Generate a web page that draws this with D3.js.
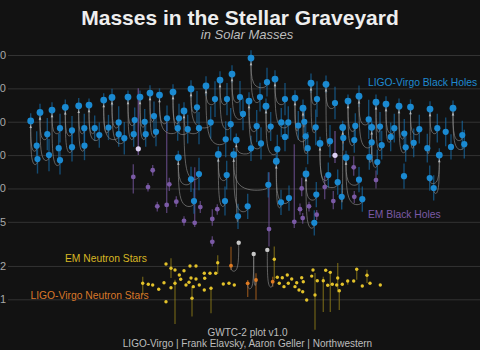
<!DOCTYPE html>
<html>
<head>
<meta charset="utf-8">
<script src="https://cdn.jsdelivr.net/npm/d3@7"></script>
<style>
  html, body { margin: 0; background: #121212; overflow: hidden; }
  svg { font-family: "Liberation Sans", Arial, sans-serif; display: block; }
</style>
</head>
<body>
<svg id="chart" width="480" height="350"></svg>
<script>
// y axis ticks (solar masses, log scale)
const yTicks = [1, 2, 5, 10, 20, 40, 80, 160];

// LIGO-Virgo binary black holes: [x, final mass, x1, m1, x2, m2, spread]
const bbh = [
  [5.7, 40.7, 11.7, 24.3, 12.5, 18.4, 0.35],
  [15, 48.5, 22.3, 30.9, 24, 20, 0.4],
  [27, 51, 35, 35, 35, 18, 0.35],
  [40.3, 54, 47, 33.4, 47, 23.6, 0.35],
  [53.7, 55.7, 59.3, 35, 59.5, 24.3, 0.35],
  [64, 56.5, 69.7, 35, 74.3, 30.3, 0.3],
  [78.7, 62.7, 83.5, 35.5, 93.7, 30.9, 0.3],
  [87, 66.3, 93.7, 39.4, 99.3, 28.4, 0.4],
  [103, 66.7, 109.7, 41.4, 108.7, 30.9, 0.3],
  [115, 66.7, 119.7, 40, 120.7, 30.9, 0.3],
  [125, 72.5, 129, 45, 131, 32.4, 0.35],
  [134.5, 69.6, 142, 43, 152.7, 35, 0.3],
  [148, 74, 154, 43, 162.7, 34.3, 0.35],
  [153.3, 19, 166, 12.1, 169, 7.7, 0.3],
  [159, 50, 174, 35, 174, 13.5, 0.4],
  [166, 79, 172, 54, 185.7, 39.4, 0.4],
  [181, 84, 190, 64, 200.7, 27.8, 0.45],
  [193.3, 20.3, 201.7, 13.2, 200, 7.7, 0.35],
  [195, 95, 202, 64, 205.7, 38, 0.4],
  [207, 107.6, 215, 66.7, 218, 47, 0.4],
  [211.3, 27.3, 213, 5.6, 226, 23, 0.3],
  [208.7, 20.2, 222.7, 6.9, 243.3, 10.8, 0.3],
  [224, 61.4, 231.7, 36.5, 236, 25.5, 0.4],
  [226, 150, 242, 91, 235, 66.7, 0.35],
  [241, 55.3, 245.7, 36.2, 252.3, 22.6, 0.35],
  [250, 97, 260, 64, 263.3, 39.4, 0.4],
  [251.3, 17.6, 256, 7.5, 264, 8.2, 0.3],
  [270, 65.4, 273.3, 37, 280.7, 29.6, 0.35],
  [278, 53, 279.3, 40, 282.7, 23.1, 0.4],
  [281, 13.5, 289.3, 4.9, 291.3, 8.8, 0.3],
  [286, 89, 292, 64, 290.7, 35.6, 0.45],
  [301, 87, 310, 59, 305, 26.7, 0.4],
  [323, 61.4, 330.3, 36.7, 329.3, 27.3, 0.3],
  [295, 25.5, 303.3, 13.2, 312.7, 11.4, 0.3],
  [321, 19, 334, 12, 337.3, 8, 0.3],
  [334, 68, 343.7, 42, 346.7, 26, 0.5],
  [351, 60, 355, 36.2, 356.7, 24.6, 0.35],
  [361, 57.7, 369.3, 35, 365.7, 29.2, 0.35],
  [374, 55.3, 379.3, 31.3, 380.7, 23.5, 0.35],
  [385.5, 54.2, 394.3, 34.3, 388.7, 25.8, 0.35],
  [405, 52, 412.3, 35, 402.3, 23.1, 0.35],
  [428, 53, 437.3, 30.3, 439.3, 25.1, 0.35],
  [346.7, 35.6, 352.3, 17.3, 344.3, 19.2, 0.3],
  [317.7, 35.5, 318.3, 28.6, 316.7, 8.4, 0.3],
  [414.3, 20, 408.7, 10.1, 404.7, 12.4, 0.3]
];
// black holes whose partners are hidden in the crowd: [x, m, spread]
const bbhLoose = [
  [33.7, 23.1, 0.35], [256.3, 39.4, 0.35], [260, 29.2, 0.35],
  [379, 12.9, 0.3], [420.7, 32.4, 0.35], [426, 23.7, 0.3]
];

// EM black holes (X-ray binaries): [x, m, lo, hi]
const emBH = [
  [108.3, 12.7, 9, 16.5], [123, 10.3, 9.4, 11.2], [127.7, 14.6, 13, 16.3],
  [132.3, 6.9, 6.2, 7.6], [141.7, 7.1, 6, 40], [144.3, 10.9, 9.5, 12.5],
  [151.3, 7.6, 6.8, 8.5], [159, 5.1, 4.6, 5.6], [169.7, 4.9, 4.5, 15.5],
  [175.3, 6.8, 6, 7.7], [187.3, 5.3, 4.6, 6.5], [187.3, 3.3, 3.0, 3.7],
  [192.3, 6.5, 5.8, 7.2], [244, 4.3, 3.0, 14], [269.3, 5.0, 4.4, 25],
  [275, 6.5, 5.8, 7.3], [276.7, 10, 8.5, 12.5], [277.7, 5.4, 4.8, 6],
  [284, 6.9, 6.2, 7.6], [291.7, 5.8, 5.2, 6.4], [299.7, 10.3, 8, 13],
  [308.3, 7.7, 6.5, 9.5], [328.7, 15.5, 13, 19.5], [329.3, 8.4, 7.4, 9.5],
  [351, 11.9, 10, 14.5]
];
// uncertain objects (light lavender): [x, m, lo, hi]
const uncertain = [[113.3, 22.8, 20, 80], [310, 19.9, 17, 33]];

// LIGO-Virgo neutron star mergers: remnant [x, m]
const nsMergers = [[213.7, 3.24], [228.7, 2.56], [242.3, 2.79]];
// their components: [x, m, lo, hi, merger]
const nsComps = [
  [206, 2.01, 1.84, 2.98, 0],
  [222.7, 1.395, 1.05, 1.49, 1],
  [231, 1.494, 0.99, 1.72, 1],
  [247.7, 1.442, 1.3, 1.6, 2]
];

// EM neutron stars: [x, m, lo, hi]  (lo/hi omitted when tiny)
const emNS = [
  [117.7, 1.395, 1.09, 1.6], [123.3, 1.366], [127.7, 1.346], [133.7, 1.231],
  [141, 2.08], [139, 1.412], [141, 0.951], [146, 1.905, 1.56, 2.35], [146, 1.273],
  [150, 1.84], [150, 1.395, 0.6, 1.5], [154.3, 1.657], [155.7, 1.516], [159, 1.81],
  [161, 1.346], [165, 2.0], [166, 1.557], [164, 1.424], [168.3, 1.3], [171, 2.0],
  [171, 1.525], [167, 1.021, 0.7, 1.3], [174.3, 1.346], [179.3, 1.717], [179.7, 1.547],
  [179.3, 1.213], [185, 1.717], [186, 1.257, 0.75, 1.3], [190.7, 1.717],
  [192.7, 2.14, 1.7, 2.5], [198.3, 1.374], [204, 1.395], [209.3, 1.346],
  [249.3, 2.3, 1.5, 3.0], [252.3, 1.58], [254.3, 1.395], [257.3, 1.567], [259, 1.3],
  [263.3, 1.395], [262.3, 1.657], [266.7, 1.525], [270, 1.3], [271.7, 1.412],
  [274, 1.213], [276.7, 1.567], [278.3, 1.442], [277.7, 1.171], [281.7, 0.986],
  [286.7, 1.62], [288, 1.84], [290, 1.094, 0.53, 1.73], [292.3, 1.472],
  [298.3, 1.472, 0.77, 1.6], [300.7, 1.83], [302.7, 1.338], [305.3, 1.75, 0.77, 1.8],
  [307.3, 1.366], [311.7, 1.346], [312.7, 1.557, 1.16, 2.13], [314.3, 1.196, 0.8, 1.2],
  [317.3, 1.366], [322.7, 1.463, 1.35, 1.5], [328.7, 1.463], [331.7, 1.866, 1.5, 1.9],
  [337.3, 1.318], [342, 1.647, 1.4, 1.85], [345, 1.395], [355.3, 1.346]
];

const W = 480, H = 350;
const BLUE = '#1a8ad2', PURPLE = '#7b5aa6', GOLD = '#e3c22a', ORANGE = '#e07b22';

const svg = d3.select('#chart');
svg.append('rect').attr('width', W).attr('height', H).attr('fill', '#121212');

const x = d3.scaleLinear().domain([0, 450]).range([25, 475]);
const y = d3.scaleLog().domain([1, 160]).range([299.3, 55]);

// grid + tick labels (the left edge of the plot is cropped, as in the original)
const ax = svg.append('g').attr('transform', 'translate(8,0)')
  .call(d3.axisLeft(y).tickValues(yTicks).tickFormat(d3.format('d')).tickSize(-(W - 8)).tickPadding(2));
ax.select('.domain').remove();
ax.selectAll('.tick line').attr('stroke', '#333').attr('stroke-width', 1);
ax.selectAll('.tick text').attr('fill', '#a8a8a8').attr('font-size', 11)
  .attr('font-family', '"Liberation Sans", Arial, sans-serif');

// flatten black hole points
const bhPts = [];
bbh.forEach(([xr, mr, x1, m1, x2, m2, e]) => {
  bhPts.push({ x: xr, m: mr, e: e / 2, rem: true });
  bhPts.push({ x: x1, m: m1, e: e });
  bhPts.push({ x: x2, m: m2, e: e });
});
bbhLoose.forEach(([xx, m, e]) => bhPts.push({ x: xx, m: m, e: e }));

const gErr = svg.append('g');
function errBars(data, color, op, w) {
  gErr.append('g').selectAll('line').data(data.filter(d => d[2] != null)).join('line')
    .attr('x1', d => x(d[0])).attr('x2', d => x(d[0]))
    .attr('y1', d => y(d[3])).attr('y2', d => y(d[2]))
    .attr('stroke', color).attr('stroke-opacity', op).attr('stroke-width', w);
}
errBars(emBH, PURPLE, 0.6, 1.4);
errBars(uncertain, PURPLE, 0.7, 1.4);
errBars(bhPts.map(d => [d.x, d.m, d.m / (1 + d.e), d.m * (1 + d.e)]), '#1672b0', 0.6, 1.4);
errBars(emNS, '#a08a18', 0.55, 1.4);
errBars(nsComps, ORANGE, 0.5, 1.4);

// merger links: remnant down, curve, up into each component
const link = d3.line().curve(d3.curveBasis);
const links = [];
bbh.forEach(([xr, mr, x1, m1, x2, m2]) => {
  [[x1, m1], [x2, m2]].forEach(([xc, mc]) => links.push([xr, mr, xc, mc]));
});
nsComps.forEach(([xc, mc, lo, hi, k]) => links.push([nsMergers[k][0], nsMergers[k][1], xc, mc]));
svg.append('g').selectAll('path').data(links).join('path')
  .attr('d', ([xr, mr, xc, mc]) => {
    const X0 = x(xr), Y0 = y(mr), X1 = x(xc), Y1 = y(mc), Yb = Y1 + 6;
    return link([[X0, Y0], [X0, Y0], [X0, Yb], [X1, Yb], [X1, Y1], [X1, Y1]]);
  })
  .attr('fill', 'none').attr('stroke', '#8c8c8c').attr('stroke-opacity', 0.65).attr('stroke-width', 1);

// arrow heads under remnants
svg.append('g').selectAll('path').data(bbh).join('path')
  .attr('transform', d => `translate(${x(d[0])},${y(d[1]) + 6})`)
  .attr('d', 'M-1.3,1.2L0,-1.6L1.3,1.2Z').attr('fill', '#b8b8b8');

// dots
svg.append('g').selectAll('circle').data(bhPts).join('circle')
  .attr('cx', d => x(d.x)).attr('cy', d => y(d.m)).attr('r', d => d.rem ? 3.4 : 3.1)
  .attr('fill', BLUE);
svg.append('g').selectAll('circle').data(emBH).join('circle')
  .attr('cx', d => x(d[0])).attr('cy', d => y(d[1])).attr('r', 2.4).attr('fill', PURPLE);
svg.append('g').selectAll('circle').data(uncertain).join('circle')
  .attr('cx', d => x(d[0])).attr('cy', d => y(d[1])).attr('r', 2.6).attr('fill', '#dcd0f2');
svg.append('g').selectAll('circle').data(emNS).join('circle')
  .attr('cx', d => x(d[0])).attr('cy', d => y(d[1])).attr('r', 1.7).attr('fill', GOLD);
svg.append('g').selectAll('circle').data(nsComps).join('circle')
  .attr('cx', d => x(d[0])).attr('cy', d => y(d[1])).attr('r', 1.9).attr('fill', ORANGE);
svg.append('g').selectAll('circle').data(nsMergers).join('circle')
  .attr('cx', d => x(d[0])).attr('cy', d => y(d[1])).attr('r', 2.2).attr('fill', '#c8c8c8');

// titles and labels
function label(txt, px, py, opt) {
  svg.append('text').attr('x', px).attr('y', py).text(txt)
    .attr('fill', opt.fill).attr('font-size', opt.size || 10.3)
    .attr('font-weight', opt.weight || 'normal').attr('font-style', opt.style || 'normal')
    .attr('text-anchor', opt.anchor || 'start');
}
label('Masses in the Stellar Graveyard', 240, 24.5, { fill: '#eeeeee', size: 21, weight: 'bold', anchor: 'middle' });
label('in Solar Masses', 247, 39, { fill: '#bdbdbd', size: 13, style: 'italic', anchor: 'middle' });
label('LIGO-Virgo Black Holes', 368, 86, { fill: '#1f8ad0' });
label('EM Black Holes', 368, 218, { fill: '#7b5aa6' });
label('EM Neutron Stars', 65, 261.5, { fill: '#d8b724' });
label('LIGO-Virgo Neutron Stars', 30.5, 299, { fill: '#d9782a' });
label('GWTC-2 plot v1.0', 247.5, 335.5, { fill: '#bdbdbd', size: 10, anchor: 'middle' });
label('LIGO-Virgo | Frank Elavsky, Aaron Geller | Northwestern', 247.5, 347, { fill: '#bdbdbd', size: 10, anchor: 'middle' });
</script>
</body>
</html>
